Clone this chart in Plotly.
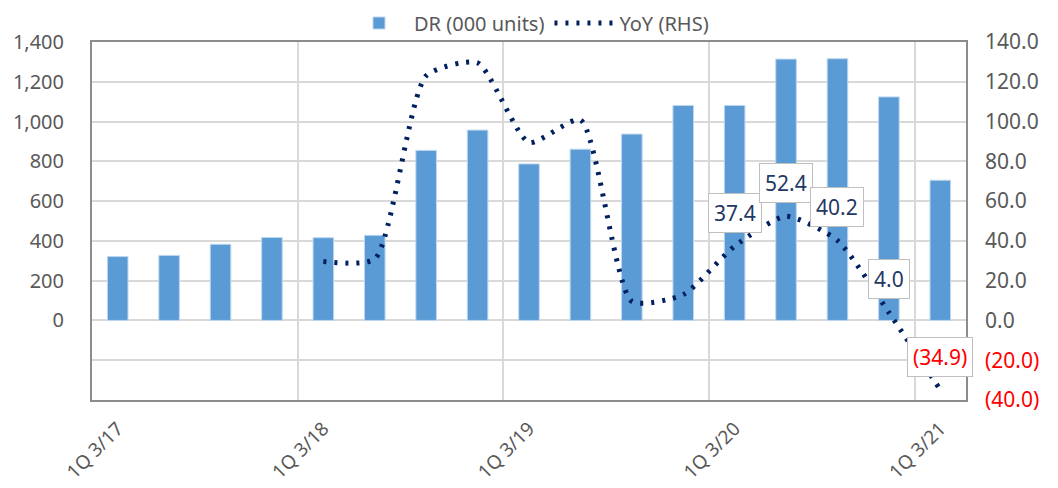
import plotly.graph_objects as go

# quarterly data
quarters = ['1Q 3/17', '2Q 3/17', '3Q 3/17', '4Q 3/17',
            '1Q 3/18', '2Q 3/18', '3Q 3/18', '4Q 3/18',
            '1Q 3/19', '2Q 3/19', '3Q 3/19', '4Q 3/19',
            '1Q 3/20', '2Q 3/20', '3Q 3/20', '4Q 3/20',
            '1Q 3/21']
dr_units = [321, 327, 383, 417, 416, 428, 855, 957, 787, 861, 937, 1081,
            1081, 1314, 1316, 1124, 705]
yoy = [None, None, None, None, 29.6, 30.9, 123.0, 129.5, 89.5, 100.8, 9.6, 13.0,
       37.4, 52.4, 40.2, 4.0, -34.9]
labelled = ['1Q 3/20', '2Q 3/20', '3Q 3/20', '4Q 3/20', '1Q 3/21']
shown_ticks = ['1Q 3/17', '1Q 3/18', '1Q 3/19', '1Q 3/20', '1Q 3/21']

left_ticks = [-400, -200, 0, 200, 400, 600, 800, 1000, 1200, 1400]
right_ticks = [-40, -20, 0, 20, 40, 60, 80, 100, 120, 140]

FONT = 'Noto Sans'
GREY = '#595959'
NAVY = '#002060'
RED = '#ff0000'

xs = list(range(len(quarters)))


def fmt_right(v):
    if v < 0:
        return f"<span style='color:{RED}'>({abs(v):.1f})</span>"
    return f'{v:.1f}'


fig = go.Figure()

fig.add_trace(go.Bar(
    x=xs, y=dr_units, name='DR (000 units)',
    width=0.4,
    marker=dict(color='#5b9bd5', line=dict(color='#bdd7ee', width=1)),
    yaxis='y',
))

fig.add_trace(go.Scatter(
    x=xs, y=yoy, name='YoY (RHS)', mode='lines',
    line=dict(color=NAVY, width=5, dash='3px,8px', shape='spline', smoothing=0.6),
    yaxis='y2', connectgaps=False,
))

# boxed data labels on the last points
for q in labelled:
    i = quarters.index(q)
    v = yoy[i]
    txt = f'({abs(v):.1f})' if v < 0 else f'{v:.1f}'
    fig.add_annotation(
        x=i, y=v, xref='x', yref='y2', text=txt, showarrow=False,
        yshift=33, bgcolor='white', bordercolor='#bfbfbf', borderwidth=1,
        borderpad=5,
        font=dict(family=FONT, size=21, color=RED if v < 0 else '#1f3864'),
    )

# the page body adds an 8px offset, so the figure is 8px smaller
fig.update_layout(
    width=1050, height=480,
    margin=dict(l=84, r=92, t=34, b=88, autoexpand=False),
    plot_bgcolor='white', paper_bgcolor='white',
    font=dict(family=FONT, size=21, color=GREY),
    showlegend=True,
    legend=dict(orientation='h', x=0.5, xanchor='center', y=1.053, yanchor='middle',
                font=dict(family=FONT, size=20, color=GREY), itemwidth=60,
                bgcolor='rgba(0,0,0,0)'),
    xaxis=dict(
        range=[-0.5, len(quarters) - 0.5],
        tickmode='array',
        tickvals=[quarters.index(q) for q in shown_ticks],
        ticktext=shown_ticks,
        tickangle=-45,
        showgrid=False,
        showline=True, mirror=True, linecolor='#8c8c8c', linewidth=2,
        zeroline=False, automargin=False,
        tickfont=dict(family=FONT, size=19, color=GREY),
        ticklabelstandoff=8,
        minor=dict(tickmode='array',
                   tickvals=[quarters.index(q) - 0.5 for q in shown_ticks],
                   showgrid=True, gridcolor='#d9d9d9', gridwidth=2, ticks=''),
    ),
    yaxis=dict(
        range=[-400, 1400],
        tickmode='array',
        tickvals=left_ticks,
        ticktext=['' if v < 0 else f'{v:,}' for v in left_ticks],
        showgrid=True, gridcolor='#d9d9d9', gridwidth=2,
        zeroline=False, automargin=False,
        showline=True, mirror=True, linecolor='#8c8c8c', linewidth=2,
        ticklabelstandoff=22,
        tickfont=dict(family=FONT, size=20, color=GREY),
    ),
    yaxis2=dict(
        range=[-40, 140],
        overlaying='y', side='right',
        tickmode='array',
        tickvals=right_ticks,
        ticktext=[fmt_right(v) for v in right_ticks],
        showgrid=False, zeroline=False, automargin=False,
        ticklabelstandoff=18,
        tickfont=dict(family=FONT, size=21, color=GREY),
    ),
)

fig.write_html('out.html')
